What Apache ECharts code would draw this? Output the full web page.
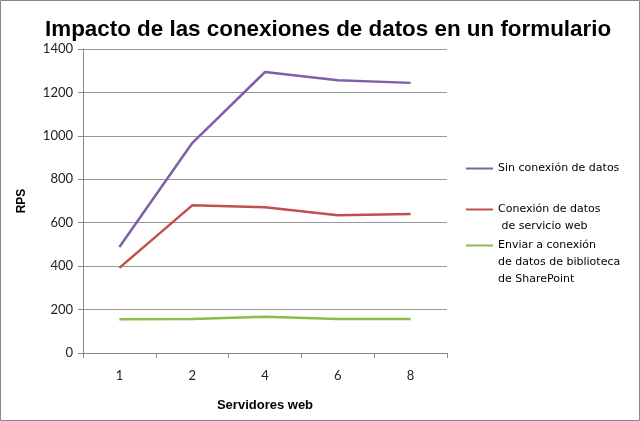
<!DOCTYPE html>
<html><head><meta charset="utf-8">
<script src="https://cdn.jsdelivr.net/npm/echarts@6/dist/echarts.min.js"></script>
<style>html,body{margin:0;padding:0;background:#fff}#c{width:640px;height:421px}</style>
</head><body><div id="c"></div>
<script>
const categories = ['1', '2', '4', '6', '8'];
const sinConexion = [488, 967, 1294, 1256, 1244];
const servicioWeb = [392, 680, 671, 634, 640];
const sharePoint = [155, 157, 167, 157, 157];
const seriesNames = ['Sin conexión de datos', 'Conexión de datos\n de servicio web', 'Enviar a conexión\nde datos de biblioteca\nde SharePoint'];
const colors = ['#7f5fa8', '#c0504d', '#8cbd47'];

const chart = echarts.init(document.getElementById('c'));
const legendText = {fontFamily: 'DejaVu Sans', fontSize: 11, color: '#000', lineHeight: 17};
function legend(i, top) {
  const extra = seriesNames[i].split('\n').length - 1;
  return {data: [seriesNames[i]], left: 461, top: top, icon: 'rect', itemWidth: 27, itemHeight: 2,
    itemGap: 0, textStyle: legendText, selectedMode: false,
    formatter: function (n) { return '\n'.repeat(extra) + n; }};
}
chart.setOption({
  animation: false,
  title: {text: 'Impacto de las conexiones de datos en un formulario', left: 40, top: 14,
    textStyle: {fontFamily: 'Liberation Sans', fontWeight: 'bold', fontSize: 22.4, color: '#000'}},
  graphic: [{type: 'rect', shape: {x: 0.5, y: 0.5, width: 639, height: 420}, style: {fill: 'none', stroke: '#888', lineWidth: 1}}],
  legend: [legend(0, 155), legend(1, 179), legend(2, 198)],
  grid: {left: 83, right: 193, top: 49, bottom: 68},
  xAxis: {type: 'category', data: categories, boundaryGap: true,
    name: 'Servidores web', nameLocation: 'middle', nameGap: 46,
    nameTextStyle: {fontFamily: 'Liberation Sans', fontWeight: 'bold', fontSize: 13, color: '#000'},
    axisLine: {lineStyle: {color: '#888'}},
    axisTick: {show: true, length: 5, lineStyle: {color: '#888'}},
    axisLabel: {fontFamily: 'Lato', fontSize: 13, color: '#222', margin: 16}},
  yAxis: {type: 'value', min: 0, max: 1400, interval: 200,
    name: 'RPS', nameLocation: 'middle', nameGap: 55, nameRotate: 90,
    nameTextStyle: {fontFamily: 'Liberation Sans', fontWeight: 'bold', fontSize: 12, color: '#000'},
    axisLine: {show: true, lineStyle: {color: '#888'}},
    axisTick: {show: true, length: 5, lineStyle: {color: '#888'}},
    axisLabel: {fontFamily: 'Lato', fontSize: 13, color: '#222', margin: 10, formatter: function (v) { return String(v); }},
    splitLine: {lineStyle: {color: '#999'}}},
  series: [
    {name: seriesNames[0], type: 'line', data: sinConexion, symbol: 'none', lineStyle: {width: 2.5, color: colors[0]}, itemStyle: {color: colors[0]}},
    {name: seriesNames[1], type: 'line', data: servicioWeb, symbol: 'none', lineStyle: {width: 2.5, color: colors[1]}, itemStyle: {color: colors[1]}},
    {name: seriesNames[2], type: 'line', data: sharePoint, symbol: 'none', lineStyle: {width: 2.5, color: colors[2]}, itemStyle: {color: colors[2]}}
  ]
});
</script></body></html>
